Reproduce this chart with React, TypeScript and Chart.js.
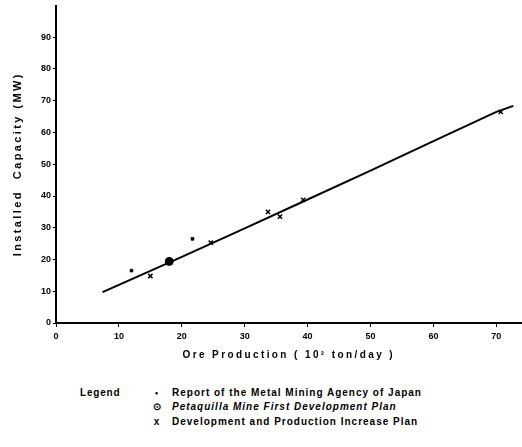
import React, { useEffect, useRef } from "react";
import { Chart, registerables } from "chart.js";

Chart.register(...registerables);

// Fitted trend line (ore production 10^2 t/day -> installed capacity MW)
const fitX = [7.4, 10, 20, 30, 40, 50, 60, 70, 72.7];
const fitY = [9.7, 12.0, 20.8, 29.8, 38.9, 48.0, 57.3, 66.5, 68.4];

// Report of the Metal Mining Agency of Japan
const mmajX = [12, 21.7];
const mmajY = [16.5, 26.5];

// Petaquilla Mine First Development Plan
const petaX = [18];
const petaY = [19.4];

// Development and Production Increase Plan
const planX = [15, 24.6, 33.7, 35.6, 39.3, 70.7];
const planY = [14.8, 25.3, 35, 33.5, 38.8, 66.5];

const seriesNames = [
  "Report of the Metal Mining Agency of Japan",
  "Petaquilla Mine First Development Plan",
  "Development and Production Increase Plan",
];
const legendMarks = ["●", "⊙", "x"];

const xTitle = "Ore Production ( 10² ton/day )";
const yTitle = "Installed  Capacity (MW)";

const toPts = (xs: number[], ys: number[]) => xs.map((x, i) => ({ x, y: ys[i] }));

const FONT = '"Liberation Sans", Arial, sans-serif';

const titleSpacing = {
  id: "titleSpacing",
  afterLayout(chart: any) {
    Object.values(chart.scales).forEach((s: any) => {
      if (s.__wrapped) return;
      const orig = s.drawTitle.bind(s);
      s.drawTitle = function () {
        const ctx: any = this.ctx;
        const prev = ctx.letterSpacing;
        ctx.letterSpacing = "2.4px";
        orig();
        ctx.letterSpacing = prev || "0px";
      };
      s.__wrapped = true;
    });
  },
};

export default function App() {
  const ref = useRef<HTMLCanvasElement>(null);

  useEffect(() => {
    const chart = new Chart(ref.current!, {
      type: "scatter",
      data: {
        datasets: [
          {
            type: "line",
            label: "fit",
            data: toPts(fitX, fitY),
            borderColor: "#000",
            borderWidth: 2,
            pointRadius: 0,
            tension: 0,
            fill: false,
          } as any,
          {
            label: seriesNames[0],
            data: toPts(mmajX, mmajY),
            pointStyle: "rect",
            pointRadius: 1.8,
            backgroundColor: "#000",
            borderColor: "#000",
          },
          {
            label: seriesNames[1],
            data: toPts(petaX, petaY),
            pointStyle: "circle",
            pointRadius: 4,
            backgroundColor: "#000",
            borderColor: "#000",
          },
          {
            label: seriesNames[2],
            data: toPts(planX, planY),
            pointStyle: "crossRot",
            pointRadius: 3,
            borderWidth: 1.5,
            borderColor: "#000",
          },
        ],
      },
      options: {
        responsive: false,
        animation: false,
        devicePixelRatio: 1,
        layout: { padding: { top: 5, right: 0, left: 0, bottom: 0 } },
        plugins: {
          legend: { display: false },
          tooltip: { enabled: false },
        },
        scales: {
          x: {
            type: "linear",
            min: 0,
            max: 74,
            afterFit: (s: any) => {
              s.height = 42;
              s.paddingRight = 0;
              s.paddingLeft = 0;
            },
            ticks: {
              stepSize: 10,
              color: "#000",
              padding: 4,
              font: { family: FONT, size: 9, weight: "bold" },
              callback: (v: any) => (v % 10 === 0 ? String(v) : null),
            },
            grid: {
              drawOnChartArea: false,
              color: "#000",
              tickLength: 4,
            },
            border: { color: "#000", width: 2 },
            title: {
              display: true,
              text: xTitle,
              color: "#000",
              font: { family: FONT, size: 10, weight: "bold" },
              padding: { top: 0, bottom: 4 },
            },
          },
          y: {
            type: "linear",
            min: 0,
            max: 100,
            afterFit: (s: any) => {
              s.width = 56;
              s.paddingTop = 0;
              s.paddingBottom = 0;
            },
            ticks: {
              stepSize: 10,
              color: "#000",
              padding: 2,
              font: { family: FONT, size: 9, weight: "bold" },
              callback: (v: any) => (v < 100 ? String(v) : null),
            },
            grid: {
              drawOnChartArea: false,
              color: "#000",
              tickLength: 3,
            },
            border: { color: "#000", width: 2 },
            title: {
              display: true,
              text: yTitle,
              color: "#000",
              font: { family: FONT, size: 11, weight: "bold" },
              padding: { top: 11, bottom: 0 },
            },
          },
        },
      },
      plugins: [titleSpacing],
    } as any);
    return () => chart.destroy();
  }, []);

  const rowTop = [387, 401, 416];
  return (
    <div
      style={{
        position: "absolute",
        left: 0,
        top: 0,
        width: 522,
        height: 447,
        overflow: "hidden",
        background: "#fff",
        fontFamily: FONT,
        color: "#000",
      }}
    >
      <canvas
        ref={ref}
        width={527}
        height={365}
        style={{ position: "absolute", left: 0, top: 0, width: 527, height: 365 }}
      />
      <div
        style={{
          position: "absolute",
          left: 80,
          top: rowTop[0],
          fontSize: 10,
          lineHeight: "12px",
          fontWeight: "bold",
          letterSpacing: "0.8px",
        }}
      >
        Legend
      </div>
      {seriesNames.map((name, i) => (
        <div
          key={name}
          style={{
            position: "absolute",
            left: 146,
            top: rowTop[i],
            fontSize: 10,
            lineHeight: "12px",
            fontWeight: "bold",
            whiteSpace: "nowrap",
            letterSpacing: "1px",
          }}
        >
          <span
            style={{
              display: "inline-block",
              width: 22,
              textAlign: "center",
              fontSize: i === 0 ? 6 : 10,
              verticalAlign: "middle",
              marginRight: 4,
            }}
          >
            {legendMarks[i]}
          </span>
          <span style={{ fontStyle: i === 1 ? "italic" : "normal" }}>{name}</span>
        </div>
      ))}
    </div>
  );
}
